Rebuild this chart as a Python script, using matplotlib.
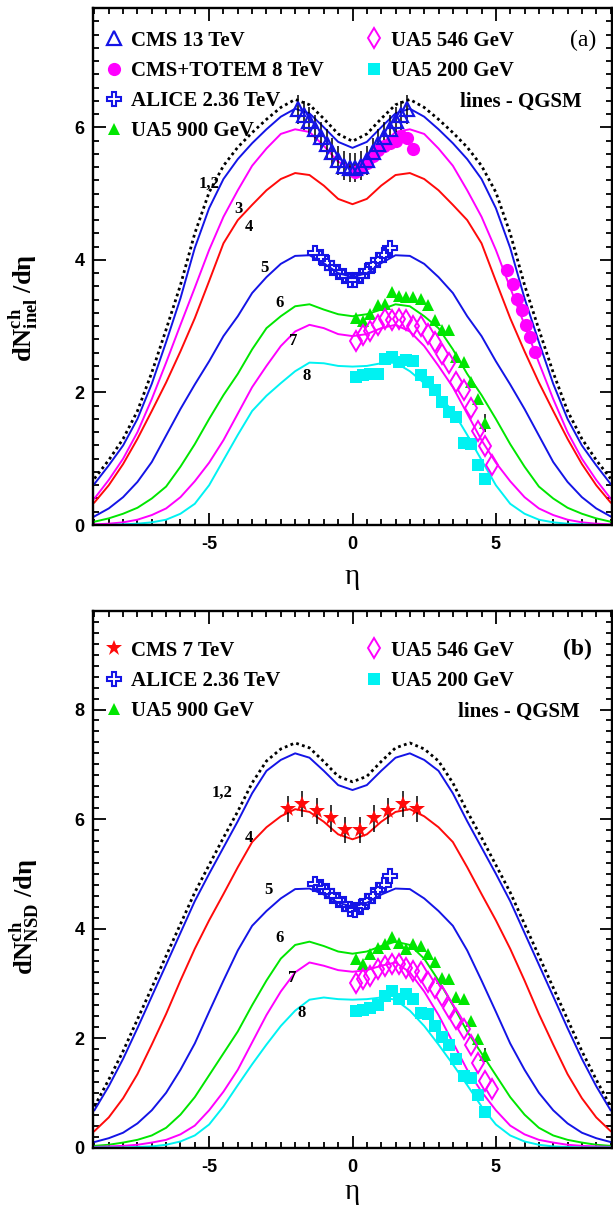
import matplotlib
matplotlib.use("Agg")
import matplotlib.pyplot as plt
from matplotlib.lines import Line2D
from matplotlib.ticker import MultipleLocator

plt.rcParams['font.family'] = ['Liberation Sans', 'DejaVu Sans']
plt.rcParams['font.weight'] = 'bold'
plt.rcParams['axes.unicode_minus'] = False
plt.rcParams['mathtext.fontset'] = 'custom'
plt.rcParams['mathtext.rm'] = 'Liberation Serif:bold'
plt.rcParams['mathtext.it'] = 'Liberation Serif:bold'
plt.rcParams['mathtext.bf'] = 'Liberation Serif:bold'

# ---------------- QGSM curves: pseudorapidity grid ----------------
ETA = [-9.0, -8.5, -8.0, -7.5, -7.0, -6.5, -6.0, -5.5, -5.0, -4.5, -4.0, -3.5, -3.0,
       -2.5, -2.0, -1.5, -1.0, -0.5, 0.0, 0.5, 1.0, 1.5, 2.0, 2.5, 3.0, 3.5, 4.0,
       4.5, 5.0, 5.5, 6.0, 6.5, 7.0, 7.5, 8.0, 8.5, 9.0]

# (a) inelastic events
A_CURVE_1 = [0.70, 0.98, 1.30, 1.72, 2.30, 2.95, 3.62, 4.40, 5.02, 5.42, 5.70, 5.92, 6.12, 6.30, 6.42, 6.34, 6.13, 5.90, 5.79,
             5.90, 6.13, 6.34, 6.42, 6.30, 6.12, 5.92, 5.70, 5.42, 5.02, 4.40, 3.62, 2.95, 2.30, 1.72, 1.30, 0.98, 0.70]
A_CURVE_2 = [0.62, 0.90, 1.20, 1.60, 2.13, 2.76, 3.42, 4.18, 4.78, 5.22, 5.52, 5.76, 5.97, 6.16, 6.28, 6.21, 6.00, 5.78, 5.69,
             5.78, 6.00, 6.21, 6.28, 6.16, 5.97, 5.76, 5.52, 5.22, 4.78, 4.18, 3.42, 2.76, 2.13, 1.60, 1.20, 0.90, 0.62]
A_CURVE_3 = [0.40, 0.68, 1.00, 1.40, 1.90, 2.45, 3.02, 3.58, 4.15, 4.65, 5.05, 5.42, 5.68, 5.90, 5.97, 5.93, 5.72, 5.48, 5.38,
             5.48, 5.72, 5.93, 5.97, 5.90, 5.68, 5.42, 5.05, 4.65, 4.15, 3.58, 3.02, 2.45, 1.90, 1.40, 1.00, 0.68, 0.40]
A_CURVE_4 = [0.34, 0.60, 0.92, 1.30, 1.72, 2.15, 2.62, 3.12, 3.68, 4.25, 4.60, 4.83, 5.05, 5.22, 5.31, 5.28, 5.12, 4.92, 4.84,
             4.92, 5.12, 5.28, 5.31, 5.22, 5.05, 4.83, 4.60, 4.25, 3.68, 3.12, 2.62, 2.15, 1.72, 1.30, 0.92, 0.60, 0.34]
A_CURVE_5 = [0.13, 0.25, 0.42, 0.65, 0.95, 1.35, 1.75, 2.12, 2.47, 2.85, 3.15, 3.50, 3.74, 3.94, 4.06, 4.07, 3.95, 3.80, 3.74,
             3.80, 3.95, 4.07, 4.06, 3.94, 3.74, 3.50, 3.15, 2.85, 2.47, 2.12, 1.75, 1.35, 0.95, 0.65, 0.42, 0.25, 0.13]
A_CURVE_6 = [0.05, 0.10, 0.17, 0.26, 0.40, 0.58, 0.88, 1.22, 1.60, 1.96, 2.28, 2.65, 2.97, 3.15, 3.30, 3.33, 3.25, 3.18, 3.15,
             3.18, 3.25, 3.33, 3.30, 3.15, 2.97, 2.65, 2.28, 1.96, 1.60, 1.22, 0.88, 0.58, 0.40, 0.26, 0.17, 0.10, 0.05]
A_CURVE_7 = [0.01, 0.02, 0.04, 0.08, 0.15, 0.25, 0.42, 0.66, 0.94, 1.28, 1.68, 2.08, 2.40, 2.70, 2.92, 3.02, 2.97, 2.88, 2.85,
             2.88, 2.97, 3.02, 2.92, 2.70, 2.40, 2.08, 1.68, 1.28, 0.94, 0.66, 0.42, 0.25, 0.15, 0.08, 0.04, 0.02, 0.01]
A_CURVE_8 = [0.00, 0.00, 0.01, 0.02, 0.04, 0.08, 0.17, 0.32, 0.60, 0.98, 1.36, 1.72, 1.95, 2.14, 2.32, 2.45, 2.44, 2.40, 2.39,
             2.40, 2.44, 2.45, 2.32, 2.14, 1.95, 1.72, 1.36, 0.98, 0.60, 0.32, 0.17, 0.08, 0.04, 0.02, 0.01, 0.00, 0.00]

# (b) non-single-diffractive events
B_CURVE_1 = [0.75, 1.24, 1.76, 2.34, 2.92, 3.50, 4.08, 4.66, 5.16, 5.66, 6.14, 6.66, 7.06, 7.28, 7.39, 7.30, 7.05, 6.78, 6.68,
             6.78, 7.05, 7.30, 7.39, 7.28, 7.06, 6.66, 6.14, 5.66, 5.16, 4.66, 4.08, 3.50, 2.92, 2.34, 1.76, 1.24, 0.75]
B_CURVE_2 = [0.68, 1.12, 1.62, 2.18, 2.76, 3.34, 3.92, 4.50, 5.00, 5.48, 5.96, 6.47, 6.88, 7.08, 7.20, 7.12, 6.88, 6.62, 6.53,
             6.62, 6.88, 7.12, 7.20, 7.08, 6.88, 6.47, 5.96, 5.48, 5.00, 4.50, 3.92, 3.34, 2.76, 2.18, 1.62, 1.12, 0.68]
B_CURVE_4 = [0.30, 0.55, 0.90, 1.34, 1.88, 2.44, 3.05, 3.63, 4.15, 4.63, 5.12, 5.58, 5.85, 6.05, 6.18, 6.13, 5.95, 5.72, 5.63,
             5.72, 5.95, 6.13, 6.18, 6.05, 5.85, 5.58, 5.12, 4.63, 4.15, 3.63, 3.05, 2.44, 1.88, 1.34, 0.90, 0.55, 0.30]
B_CURVE_5 = [0.10, 0.17, 0.27, 0.44, 0.68, 1.00, 1.42, 1.90, 2.48, 3.05, 3.60, 4.05, 4.32, 4.55, 4.72, 4.73, 4.62, 4.47, 4.40,
             4.47, 4.62, 4.73, 4.72, 4.55, 4.32, 4.05, 3.60, 3.05, 2.48, 1.90, 1.42, 1.00, 0.68, 0.44, 0.27, 0.17, 0.10]
B_CURVE_6 = [0.03, 0.05, 0.09, 0.14, 0.22, 0.36, 0.60, 0.92, 1.32, 1.72, 2.12, 2.60, 3.05, 3.45, 3.70, 3.76, 3.68, 3.58, 3.54,
             3.58, 3.68, 3.76, 3.70, 3.45, 3.05, 2.60, 2.12, 1.72, 1.32, 0.92, 0.60, 0.36, 0.22, 0.14, 0.09, 0.05, 0.03]
B_CURVE_7 = [0.01, 0.02, 0.03, 0.05, 0.09, 0.14, 0.24, 0.40, 0.68, 1.02, 1.42, 1.92, 2.42, 2.85, 3.20, 3.38, 3.32, 3.24, 3.21,
             3.24, 3.32, 3.38, 3.20, 2.85, 2.42, 1.92, 1.42, 1.02, 0.68, 0.40, 0.24, 0.14, 0.09, 0.05, 0.03, 0.02, 0.01]
B_CURVE_8 = [0.00, 0.00, 0.00, 0.01, 0.02, 0.05, 0.11, 0.22, 0.42, 0.75, 1.14, 1.52, 1.88, 2.22, 2.50, 2.70, 2.74, 2.71, 2.70,
             2.71, 2.74, 2.70, 2.50, 2.22, 1.88, 1.52, 1.14, 0.75, 0.42, 0.22, 0.11, 0.05, 0.02, 0.01, 0.00, 0.00, 0.00]

# ---------------- experimental data ----------------
CMS13_ETA = [-1.9, -1.7, -1.5, -1.3, -1.1, -0.9, -0.7, -0.5, -0.3, -0.1,
             0.1, 0.3, 0.5, 0.7, 0.9, 1.1, 1.3, 1.5, 1.7, 1.9]
CMS13_INEL = [6.27, 6.18, 6.09, 5.97, 5.86, 5.75, 5.62, 5.50, 5.42, 5.39,
              5.39, 5.42, 5.50, 5.62, 5.75, 5.86, 5.97, 6.09, 6.18, 6.27]
CMS13_ERR = 0.22

TOTEM8_ETA = [0.1, 0.3, 0.5, 0.7, 0.9, 1.1, 1.3, 1.5, 1.7, 1.9, 2.1,
              5.4, 5.6, 5.75, 5.9, 6.05, 6.2, 6.35]
TOTEM8_INEL = [5.33, 5.38, 5.46, 5.56, 5.66, 5.72, 5.76, 5.80, 5.87, 5.84, 5.68,
               3.85, 3.64, 3.41, 3.24, 3.01, 2.84, 2.61]

ALICE_ETA = [-1.3, -1.1, -0.9, -0.7, -0.5, -0.3, -0.1, 0.1, 0.3, 0.5, 0.7, 0.9, 1.1, 1.3]
ALICE_INEL = [4.10, 4.04, 3.95, 3.88, 3.82, 3.76, 3.70, 3.69, 3.75, 3.83, 3.92, 4.00, 4.07, 4.18]
ALICE_NSD = [4.82, 4.76, 4.68, 4.60, 4.52, 4.45, 4.36, 4.33, 4.40, 4.50, 4.60, 4.70, 4.80, 4.96]

UA5_900_ETA = [0.125, 0.375, 0.625, 0.875, 1.125, 1.375, 1.625, 1.875, 2.125, 2.375,
               2.625, 2.875, 3.125, 3.375, 3.625, 3.875, 4.125, 4.375, 4.625]
UA5_900_INEL = [3.12, 3.08, 3.18, 3.32, 3.34, 3.52, 3.46, 3.44, 3.44, 3.41,
                3.32, 3.09, 2.94, 2.94, 2.54, 2.46, 2.15, 1.90, 1.54]
UA5_900_NSD = [3.44, 3.35, 3.53, 3.65, 3.71, 3.85, 3.73, 3.62, 3.71, 3.68,
               3.54, 3.38, 3.10, 3.07, 2.74, 2.71, 2.31, 1.99, 1.69]
UA5_900_ERR = [0, 0, 0, 0, 0, 0, 0, 0, 0, 0, 0, 0, 0, 0, 0, 0, 0, 0, 0.13]

UA5_546_ETA = [0.125, 0.375, 0.625, 0.875, 1.125, 1.375, 1.625, 1.875, 2.125, 2.375,
               2.625, 2.875, 3.125, 3.375, 3.625, 3.875, 4.125, 4.375, 4.625, 4.875]
UA5_546_INEL = [2.77, 2.87, 2.93, 3.02, 3.11, 3.10, 3.11, 3.09, 3.00, 3.00,
                2.88, 2.76, 2.58, 2.45, 2.15, 2.03, 1.77, 1.42, 1.19, 0.90]
UA5_546_NSD = [3.01, 3.08, 3.13, 3.26, 3.32, 3.35, 3.35, 3.28, 3.23, 3.20,
               3.03, 2.92, 2.77, 2.55, 2.34, 2.16, 1.88, 1.55, 1.21, 1.06]

UA5_200_ETA = [0.125, 0.375, 0.625, 0.875, 1.125, 1.375, 1.625, 1.875, 2.125, 2.375,
               2.625, 2.875, 3.125, 3.375, 3.625, 3.875, 4.125, 4.375, 4.625]
UA5_200_INEL = [2.24, 2.27, 2.28, 2.28, 2.50, 2.54, 2.46, 2.49, 2.48, 2.27,
                2.16, 2.03, 1.86, 1.70, 1.63, 1.24, 1.22, 0.90, 0.70]
UA5_200_NSD = [2.49, 2.52, 2.55, 2.60, 2.77, 2.86, 2.71, 2.80, 2.71, 2.46,
               2.43, 2.22, 2.01, 1.88, 1.61, 1.30, 1.27, 0.95, 0.65]

CMS7_ETA = [-2.25, -1.75, -1.25, -0.75, -0.25, 0.25, 0.75, 1.25, 1.75, 2.25]
CMS7_NSD = [6.18, 6.27, 6.15, 6.01, 5.80, 5.80, 6.01, 6.15, 6.27, 6.18]
CMS7_ERR = 0.24

# curve labels: (text, eta, value)
A_LABELS = [("1,2", -5.0, 5.15), ("3", -3.98, 4.76), ("4", -3.6, 4.49), ("5", -3.06, 3.88),
            ("6", -2.54, 3.35), ("7", -2.07, 2.78), ("8", -1.60, 2.25)]
B_LABELS = [("1,2", -4.55, 6.47), ("4", -3.6, 5.66), ("5", -2.93, 4.70),
            ("6", -2.55, 3.82), ("7", -2.09, 3.09), ("8", -1.79, 2.45)]

BLUE = '#1414e6'
MAGENTA = '#ff00ff'
RED = '#ff0a0a'
GREEN = '#00e600'
CYAN = '#00f2f2'
SERIF = 'Liberation Serif'

MK = {
    'cms13': dict(marker='^', ms=10, mfc='none', mec=BLUE, mew=1.6),
    'totem': dict(marker='o', ms=9.5, mfc=MAGENTA, mec=MAGENTA, mew=0),
    'alice': dict(marker='P', ms=10, mfc='none', mec=BLUE, mew=1.5),
    'ua900': dict(marker='^', ms=8.5, mfc=GREEN, mec=GREEN, mew=0),
    'ua546': dict(marker='d', ms=10.5, mfc='none', mec=MAGENTA, mew=1.4),
    'ua200': dict(marker='s', ms=8.5, mfc=CYAN, mec=CYAN, mew=0),
    'cms7': dict(marker='*', ms=12, mfc=RED, mec=RED, mew=0),
}


def style_axes(ax, ymax):
    ax.set_xlim(-9.05, 9.05)
    ax.set_ylim(0, ymax)
    ax.xaxis.set_major_locator(MultipleLocator(5))
    ax.xaxis.set_minor_locator(MultipleLocator(0.5))
    ax.yaxis.set_major_locator(MultipleLocator(2))
    ax.yaxis.set_minor_locator(MultipleLocator(0.2))
    ax.tick_params(which='both', direction='in', top=True, right=True, width=1.3,
                   labelsize=13)
    ax.tick_params(which='major', length=9)
    ax.tick_params(which='minor', length=4.5)
    ax.tick_params(axis='x', pad=8)
    ax.tick_params(axis='y', pad=6)
    for sp in ax.spines.values():
        sp.set_linewidth(1.7)
    ax.set_xlabel('η', family=SERIF, weight='normal', fontsize=21, va='center')


def draw_curves(ax, curves):
    for vals, color, ls in curves:
        if ls == 'dot':
            ax.plot(ETA, vals, color='black', lw=2.0, ls=(0, (1.0, 1.2)), zorder=2)
        else:
            ax.plot(ETA, vals, color=color, lw=1.4, zorder=2)


def put_labels(ax, labels):
    for txt, x, y in labels:
        ax.text(x, y, txt, family=SERIF, weight='bold', fontsize=12,
                ha='center', va='center', zorder=5)


def legend_pair(ax, left_items, right_items, y_top):
    prop = dict(family=SERIF, weight='bold', size=15)
    kw = dict(loc='upper left', frameon=False, prop=prop, numpoints=1,
              handlelength=1.0, handletextpad=0.3, labelspacing=0.49,
              borderpad=0.0, borderaxespad=0.0)
    h1 = [Line2D([], [], ls='none', **MK[k]) for k, _ in left_items]
    leg1 = ax.legend(h1, [t for _, t in left_items], bbox_to_anchor=(0.021, y_top), **kw)
    ax.add_artist(leg1)
    h2 = [Line2D([], [], ls='none', **MK[k]) for k, _ in right_items]
    ax.legend(h2, [t for _, t in right_items], bbox_to_anchor=(0.522, y_top), **kw)


fig = plt.figure(figsize=(6.13, 12.09), dpi=100)
ax_a = fig.add_axes([93 / 613, 1 - 525 / 1209, 519 / 613, 517 / 1209])
ax_b = fig.add_axes([93 / 613, 1 - 1147.5 / 1209, 519 / 613, 536.5 / 1209])

# ---------------- panel (a) ----------------
style_axes(ax_a, 7.8)
draw_curves(ax_a, [(A_CURVE_1, 'black', 'dot'), (A_CURVE_2, BLUE, '-'),
                   (A_CURVE_3, MAGENTA, '-'), (A_CURVE_4, RED, '-'),
                   (A_CURVE_5, BLUE, '-'), (A_CURVE_6, GREEN, '-'),
                   (A_CURVE_7, MAGENTA, '-'), (A_CURVE_8, CYAN, '-')])
ax_a.errorbar(CMS13_ETA, CMS13_INEL, yerr=CMS13_ERR, fmt='none', ecolor='black',
              elinewidth=1.1, capsize=0, zorder=3)
ax_a.errorbar(UA5_900_ETA, UA5_900_INEL, yerr=UA5_900_ERR, fmt='none', ecolor='black',
              elinewidth=1.1, capsize=0, zorder=3)
ax_a.plot(TOTEM8_ETA, TOTEM8_INEL, ls='none', zorder=3, **MK['totem'])
ax_a.plot(CMS13_ETA, CMS13_INEL, ls='none', zorder=4, **MK['cms13'])
ax_a.plot(ALICE_ETA, ALICE_INEL, ls='none', zorder=4, **MK['alice'])
ax_a.plot(UA5_900_ETA, UA5_900_INEL, ls='none', zorder=4, **MK['ua900'])
ax_a.plot(UA5_546_ETA, UA5_546_INEL, ls='none', zorder=4, **MK['ua546'])
ax_a.plot(UA5_200_ETA, UA5_200_INEL, ls='none', zorder=3, **MK['ua200'])
put_labels(ax_a, A_LABELS)
legend_pair(ax_a,
            [('cms13', 'CMS 13 TeV'), ('totem', 'CMS+TOTEM 8 TeV'),
             ('alice', 'ALICE 2.36 TeV'), ('ua900', 'UA5 900 GeV')],
            [('ua546', 'UA5 546 GeV'), ('ua200', 'UA5 200 GeV')], 0.956)
ax_a.text(0.942, 0.818, 'lines - QGSM', transform=ax_a.transAxes, family=SERIF,
          weight='bold', fontsize=15, ha='right', va='center')
ax_a.text(0.969, 0.938, '(a)', transform=ax_a.transAxes, family=SERIF,
          weight='normal', fontsize=17, ha='right', va='center')
ax_a.set_ylabel(r'dN$^{ch}_{inel}$ /dη', family=SERIF, weight='bold', fontsize=19)
ax_a.yaxis.set_label_coords(-0.10, 0.42)
ax_a.xaxis.set_label_coords(0.5, -0.10)

# ---------------- panel (b) ----------------
style_axes(ax_b, 9.8)
draw_curves(ax_b, [(B_CURVE_1, 'black', 'dot'), (B_CURVE_2, BLUE, '-'),
                   (B_CURVE_4, RED, '-'), (B_CURVE_5, BLUE, '-'),
                   (B_CURVE_6, GREEN, '-'), (B_CURVE_7, MAGENTA, '-'),
                   (B_CURVE_8, CYAN, '-')])
ax_b.errorbar(CMS7_ETA, CMS7_NSD, yerr=CMS7_ERR, fmt='none', ecolor='black',
              elinewidth=1.1, capsize=0, zorder=3)
ax_b.errorbar(UA5_900_ETA, UA5_900_NSD, yerr=UA5_900_ERR, fmt='none', ecolor='black',
              elinewidth=1.1, capsize=0, zorder=3)
ax_b.plot(CMS7_ETA, CMS7_NSD, ls='none', zorder=4, **MK['cms7'])
ax_b.plot(ALICE_ETA, ALICE_NSD, ls='none', zorder=4, **MK['alice'])
ax_b.plot(UA5_900_ETA, UA5_900_NSD, ls='none', zorder=4, **MK['ua900'])
ax_b.plot(UA5_546_ETA, UA5_546_NSD, ls='none', zorder=4, **MK['ua546'])
ax_b.plot(UA5_200_ETA, UA5_200_NSD, ls='none', zorder=3, **MK['ua200'])
put_labels(ax_b, B_LABELS)
legend_pair(ax_b,
            [('cms7', 'CMS 7 TeV'), ('alice', 'ALICE 2.36 TeV'), ('ua900', 'UA5 900 GeV')],
            [('ua546', 'UA5 546 GeV'), ('ua200', 'UA5 200 GeV')], 0.9445)
ax_b.text(0.937, 0.812, 'lines - QGSM', transform=ax_b.transAxes, family=SERIF,
          weight='bold', fontsize=15, ha='right', va='center')
ax_b.text(0.962, 0.929, '(b)', transform=ax_b.transAxes, family=SERIF,
          weight='bold', fontsize=17, ha='right', va='center')
ax_b.set_ylabel(r'dN$^{ch}_{NSD}$ /dη', family=SERIF, weight='bold', fontsize=19)
ax_b.yaxis.set_label_coords(-0.10, 0.43)
ax_b.xaxis.set_label_coords(0.5, -0.083)

fig.savefig('out.png', dpi=100)
